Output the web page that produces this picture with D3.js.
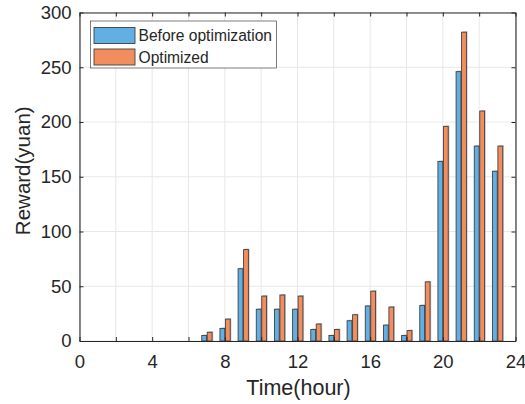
<!DOCTYPE html>
<html>
<head>
<meta charset="utf-8">
<script src="https://cdn.jsdelivr.net/npm/d3@7"></script>
<style>
  body { margin: 0; background: #fff; }
  svg { font-family: "Liberation Sans", Arial, sans-serif; }
</style>
</head>
<body>
<svg id="chart" width="525" height="404"></svg>
<script>
// hours with bars
var hours = [7, 8, 9, 10, 11, 12, 13, 14, 15, 16, 17, 18, 19, 20, 21, 22, 23];
// reward values
var beforeOpt = [5, 11.5, 66, 29, 29, 29, 10.5, 5, 18.5, 32, 14.5, 5, 32.5, 164, 246, 178, 155];
var optimized = [8, 20, 83.5, 41, 42, 41, 15.5, 10.5, 24, 45.5, 31, 9.5, 54, 196, 282, 210, 178];
var seriesNames = ["Before optimization", "Optimized"];
var seriesColors = ["#62b0e3", "#f28e5e"];
var xTicks = [0, 2, 4, 6, 8, 10, 12, 14, 16, 18, 20, 22, 24];
var xLabels = [0, 4, 8, 12, 16, 20, 24];
var yTicks = [0, 50, 100, 150, 200, 250, 300];

var margin = {top: 12.5, right: 9.5, bottom: 63, left: 79.5},
    width = 525 - margin.left - margin.right,
    height = 404 - margin.top - margin.bottom;

var svg = d3.select("#chart")
  .append("g")
  .attr("transform", "translate(" + margin.left + "," + margin.top + ")");

var x = d3.scaleLinear().domain([0, 24]).range([0, width]);
var y = d3.scaleLinear().domain([0, 300]).range([height, 0]);
var x1 = d3.scaleBand().domain(seriesNames).range([-4.9, 5.4]).paddingInner(0.12);

var axisCol = "#262626";

// grid
svg.append("g").selectAll("line").data(xTicks).enter().append("line")
  .attr("x1", function(d){ return x(d); }).attr("x2", function(d){ return x(d); })
  .attr("y1", 0).attr("y2", height)
  .attr("stroke", "#e8e8e8").attr("stroke-width", 1);
svg.append("g").selectAll("line").data(yTicks).enter().append("line")
  .attr("y1", function(d){ return y(d); }).attr("y2", function(d){ return y(d); })
  .attr("x1", 0).attr("x2", width)
  .attr("stroke", "#e8e8e8").attr("stroke-width", 1);

// bars
var rows = hours.map(function(h, i){
  return {hour: h, values: [beforeOpt[i], optimized[i]]};
});
var groups = svg.append("g").selectAll("g").data(rows).enter().append("g")
  .attr("transform", function(d){ return "translate(" + x(d.hour) + ",0)"; });

var cells = groups.selectAll("g").data(function(d){
  return d.values.map(function(v, k){ return {name: seriesNames[k], value: v, k: k}; });
}).enter();

// soft shadow like the original rendering
cells.append("rect")
  .attr("x", function(d){ return x1(d.name) + 1.2; })
  .attr("y", function(d){ return y(d.value) - 1; })
  .attr("width", x1.bandwidth())
  .attr("height", function(d){ return height - y(d.value) + 1; })
  .attr("fill", "#9a9a9a").attr("opacity", 0.55);

cells.append("rect")
  .attr("x", function(d){ return x1(d.name); })
  .attr("y", function(d){ return y(d.value); })
  .attr("width", x1.bandwidth())
  .attr("height", function(d){ return height - y(d.value); })
  .attr("fill", function(d){ return seriesColors[d.k]; })
  .attr("stroke", "#404040").attr("stroke-width", 0.9);

// axes (box, inward ticks)
var xAxis = svg.append("g").attr("transform", "translate(0," + height + ")")
  .call(d3.axisBottom(x).tickValues(xTicks).tickSizeInner(-4).tickSizeOuter(0)
    .tickPadding(14)
    .tickFormat(function(d){ return xLabels.indexOf(d) >= 0 ? d : ""; }));
var xTop = svg.append("g")
  .call(d3.axisTop(x).tickValues(xTicks).tickSizeInner(-4).tickSizeOuter(0).tickFormat(""));
var yAxis = svg.append("g")
  .call(d3.axisLeft(y).tickValues(yTicks).tickSizeInner(-4).tickSizeOuter(0).tickPadding(8));
var yRight = svg.append("g").attr("transform", "translate(" + width + ",0)")
  .call(d3.axisRight(y).tickValues(yTicks).tickSizeInner(-4).tickSizeOuter(0).tickFormat(""));

[xAxis, xTop, yAxis, yRight].forEach(function(a){
  a.select(".domain").attr("stroke", axisCol).attr("stroke-width", 1.1);
  a.selectAll(".tick line").attr("stroke", axisCol);
  a.selectAll("text").attr("fill", axisCol)
    .style("font-family", "Liberation Sans, Arial, sans-serif")
    .style("font-size", "18.5px");
});

// axis labels
svg.append("text")
  .attr("x", width / 2 + 1).attr("y", height + 54)
  .attr("text-anchor", "middle")
  .attr("fill", axisCol)
  .style("font-size", "21.5px")
  .text("Time(hour)");

svg.append("text")
  .attr("transform", "rotate(-90)")
  .attr("x", -height / 2 + 6).attr("y", -50)
  .attr("text-anchor", "middle")
  .attr("fill", axisCol)
  .style("font-size", "20.5px")
  .text("Reward(yuan)");

// legend
var legend = svg.append("g").attr("transform", "translate(11,8.5)");
legend.append("rect")
  .attr("x", 0).attr("y", 0).attr("width", 186).attr("height", 47)
  .attr("fill", "#fff").attr("stroke", "#262626").attr("stroke-width", 0.6);
seriesNames.forEach(function(name, k){
  var row = legend.append("g").attr("transform", "translate(3.5," + (6.5 + k * 21.5) + ")");
  row.append("rect")
    .attr("width", 41).attr("height", 16)
    .attr("fill", seriesColors[k]).attr("stroke", "#404040").attr("stroke-width", 0.9);
  row.append("text")
    .attr("x", 44.5).attr("y", 13.5)
    .attr("fill", axisCol)
    .style("font-size", "15.6px")
    .text(name);
});
</script>
</body>
</html>
